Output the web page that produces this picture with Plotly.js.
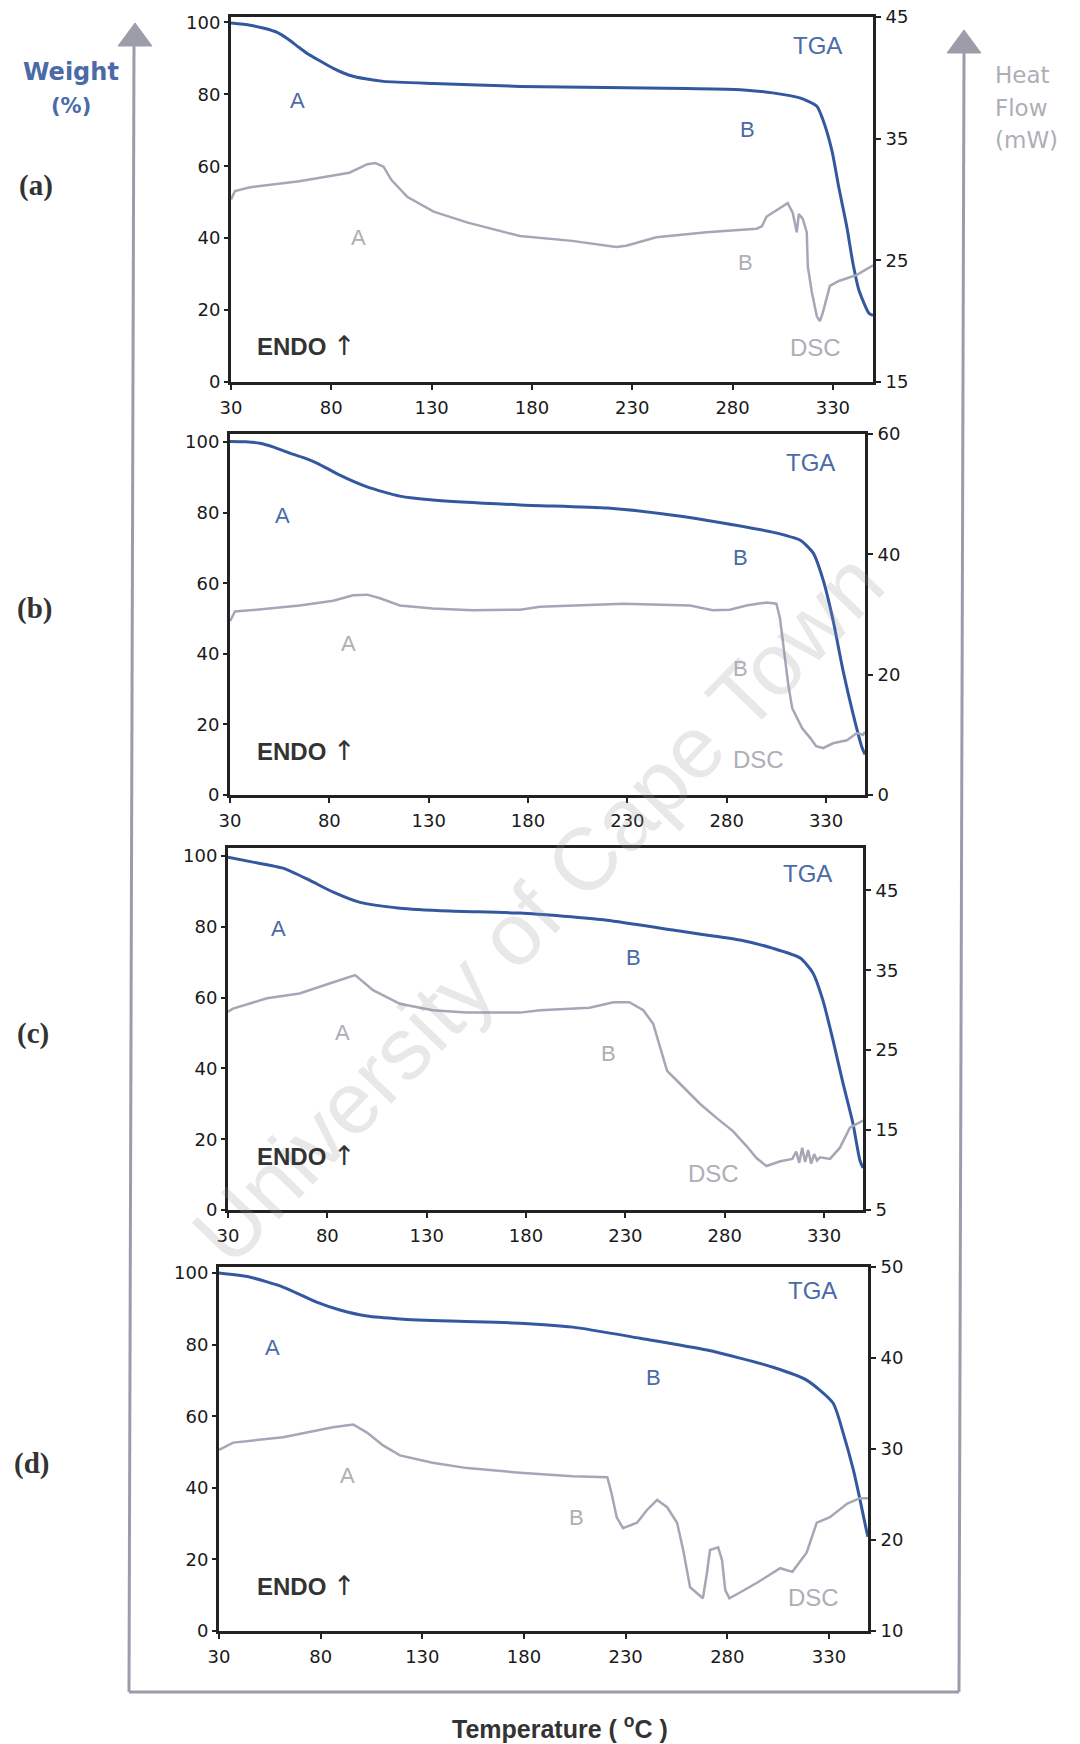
<!DOCTYPE html>
<html>
<head>
<meta charset="utf-8">
<script src="https://cdn.plot.ly/plotly-3.0.1.min.js"></script>
<style>html,body{margin:0;padding:0;background:#fff;}#chart{width:1080px;height:1744px;}</style>
</head>
<body>
<div id="chart"></div>
<script>
// ---------------- DATA ----------------
var xTickVals = [30, 80, 130, 180, 230, 280, 330];
var leftTickVals = [0, 20, 40, 60, 80, 100];

// Panel (a)
var tA_tga = [30, 39.5, 47, 53, 58, 64, 69, 74, 81, 89, 97, 106, 131, 174, 217, 257, 284, 300, 313.5, 322, 325, 329.5, 333, 337, 340, 343, 348, 350];
var wA_tga = [99.8, 99.2, 98.3, 97.2, 95.5, 93, 91, 89.4, 87.2, 85.3, 84.3, 83.6, 83, 82.2, 81.9, 81.6, 81.3, 80.4, 79, 76.7, 73, 64.4, 54, 43, 33, 25.5, 19.1, 18.5];
var tA_dsc = [30, 32, 39.5, 64, 89, 98, 102, 106, 110, 118, 131, 148, 174, 200, 222, 227, 242, 267, 292, 294.6, 297, 300, 303.5, 307.5, 310, 312, 313, 315, 317, 317.5, 319.5, 322, 323.5, 325, 328.5, 333, 342, 348, 350];
var hA_dsc = [30.0, 30.7, 31.0, 31.5, 32.2, 32.9, 33.0, 32.7, 31.6, 30.2, 29.0, 28.1, 27.0, 26.6, 26.1, 26.2, 26.9, 27.3, 27.6, 27.8, 28.6, 28.9, 29.3, 29.7, 28.9, 27.3, 28.8, 28.4, 27.3, 24.5, 22.4, 20.4, 20.0, 20.7, 22.9, 23.3, 23.8, 24.4, 24.6];
var rightTicksA = [15, 25, 35, 45];

// Panel (b)
var tB_tga = [30, 38, 45, 52, 60, 67, 74, 85, 99, 115.5, 132, 176, 220, 253, 278, 303, 317, 323.5, 328.5, 333.5, 338.5, 343.5, 348, 349.6];
var wB_tga = [100.2, 100.1, 99.7, 98.6, 96.9, 95.6, 94, 90.7, 87.3, 84.7, 83.6, 82.2, 81.3, 79.3, 77.1, 74.5, 72.2, 68.6, 61, 49.6, 35.4, 23.2, 13.6, 11.5];
var tB_dsc = [30, 32.5, 40, 65, 82, 92, 99, 105.5, 115.5, 132, 152, 176, 186, 228, 261.5, 273, 281.6, 290, 300, 305, 306.8, 309, 311, 313, 318, 322, 325, 328.5, 333.5, 340.5, 345.5, 348.6, 349.6];
var hB_dsc = [28.9, 30.5, 30.7, 31.5, 32.3, 33.2, 33.3, 32.7, 31.5, 31.0, 30.7, 30.8, 31.3, 31.8, 31.5, 30.7, 30.8, 31.5, 32.0, 31.8, 29.4, 23.9, 18.3, 14.4, 11.1, 9.5, 8.1, 7.8, 8.6, 9.1, 10.3, 10.0, 10.5];
var rightTicksB = [0, 20, 40, 60];

// Panel (c)
var tC_tga = [30, 42.6, 57.7, 71, 83, 96, 116.5, 141.7, 177, 220.7, 254, 287.7, 304, 318, 324.4, 329.4, 334.5, 339.5, 344.5, 348, 349.6];
var wC_tga = [99.7, 98.3, 96.6, 93.2, 89.8, 87, 85.3, 84.5, 83.9, 81.9, 79.1, 76.3, 74, 71.2, 67, 59.3, 48, 35.9, 24.6, 14.1, 11.9];
var tC_dsc = [30, 32.5, 49.6, 66, 83, 94, 103, 116.5, 133, 150, 177, 187, 212, 224, 232, 239, 244, 247.4, 251, 257.5, 267.5, 276, 284, 291, 296, 301, 308, 314, 316, 317.5, 319, 320.5, 322, 323.5, 325, 326.5, 328, 333, 338, 343, 347, 349.6];
var hC_dsc = [29.8, 30.2, 31.5, 32.1, 33.5, 34.4, 32.5, 30.8, 30.0, 29.7, 29.7, 30.0, 30.3, 31.0, 31.0, 30.0, 28.3, 25.3, 22.4, 20.8, 18.3, 16.5, 14.9, 13.0, 11.5, 10.5, 11.1, 11.4, 12.3, 10.9, 12.8, 11.0, 12.5, 10.8, 12.0, 11.2, 11.6, 11.4, 12.8, 15.3, 15.9, 16.2];
var rightTicksC = [5, 15, 25, 35, 45];

// Panel (d)
var tD_tga = [30, 45, 61.5, 78, 89.5, 102.8, 119, 143.6, 178, 204, 237, 270, 302.5, 319, 332, 337, 342, 345.3, 348.7, 349.2];
var wD_tga = [100, 98.9, 96.1, 91.9, 89.7, 88, 87.2, 86.6, 86, 84.9, 81.8, 78.5, 73.7, 70.1, 63.7, 55.3, 45, 36.6, 27.4, 26.3];
var tD_dsc = [30, 37, 61.5, 86, 96, 102.8, 110.7, 119, 135, 152, 178, 204, 221, 223, 225.6, 228.7, 235.6, 240.5, 245.5, 250.4, 255.3, 258.3, 261.7, 265, 268, 270, 271.5, 275.5, 277.4, 279, 281, 286, 294.6, 306, 312, 319, 324, 330.5, 339, 345.3, 349.2];
var hD_dsc = [29.9, 30.7, 31.3, 32.4, 32.7, 31.8, 30.4, 29.3, 28.5, 27.9, 27.4, 27.0, 26.9, 25.2, 22.5, 21.3, 21.9, 23.3, 24.4, 23.6, 21.9, 18.9, 14.8, 14.2, 13.6, 16.4, 18.9, 19.2, 17.8, 14.5, 13.6, 14.2, 15.3, 16.9, 16.5, 18.6, 21.9, 22.5, 24.0, 24.6, 24.6];
var rightTicksD = [10, 20, 30, 40, 50];

var panelLetters = ['(a)', '(b)', '(c)', '(d)'];

// ---------------- LAYOUT CONFIG ----------------
var W = 1080, H = 1744;
function px(x) { return x / W; }
function py(y) { return 1 - y / H; }

var panels = [
  {box: [231, 873, 17, 382], xr: [30, 350], yl: [0, 101.5], yr: [15, 45], rt: rightTicksA,
   tga: [tA_tga, wA_tga], dsc: [tA_dsc, hA_dsc],
   lab: {tga: [817, 45], bA: [297, 100], bB: [747, 130], gA: [358, 237], gB: [745, 262], dsc: [815, 347], endo: [255, 345], letter: [36, 185]}},
  {box: [230, 865, 434, 795], xr: [30, 349.6], yl: [0, 102.3], yr: [0, 60], rt: rightTicksB,
   tga: [tB_tga, wB_tga], dsc: [tB_dsc, hB_dsc],
   lab: {tga: [810, 462], bA: [282, 515], bB: [740, 557], gA: [348, 643], gB: [740, 668], dsc: [758, 760], endo: [255, 750], letter: [34, 608]}},
  {box: [228, 863, 848, 1210], xr: [30, 349.6], yl: [0, 102.3], yr: [5, 50.3], rt: rightTicksC,
   tga: [tC_tga, wC_tga], dsc: [tC_dsc, hC_dsc],
   lab: {tga: [807, 873], bA: [278, 928], bB: [633, 957], gA: [342, 1032], gB: [608, 1053], dsc: [713, 1173], endo: [255, 1155], letter: [33, 1033]}},
  {box: [219, 868, 1267, 1631], xr: [30, 349.2], yl: [0, 101.7], yr: [10, 50], rt: rightTicksD,
   tga: [tD_tga, wD_tga], dsc: [tD_dsc, hD_dsc],
   lab: {tga: [812, 1290], bA: [272, 1347], bB: [653, 1377], gA: [347, 1475], gB: [576, 1517], dsc: [813, 1597], endo: [255, 1585], letter: [31, 1463]}}
];

var TGA_COLOR = '#3458a0';
var DSC_COLOR = '#a6a6b6';
var BLUE_TXT = '#4a6aa8';
var GRAY_TXT = '#aeaeb6';
var FRAME = '#222222';
var tickFont = {family: 'DejaVu Sans', size: 18, color: '#1a1a1a'};

var layout = {
  width: W, height: H,
  margin: {l: 0, r: 0, t: 0, b: 0, pad: 0},
  paper_bgcolor: '#ffffff', plot_bgcolor: '#ffffff',
  showlegend: false,
  annotations: [], shapes: []
};
var traces = [];

function ann(x, y, text, font, opts) {
  var a = {xref: 'paper', yref: 'paper', x: px(x), y: py(y), text: text, showarrow: false,
           xanchor: 'center', yanchor: 'middle', font: font};
  if (opts) for (var k in opts) a[k] = opts[k];
  layout.annotations.push(a);
}

// Watermark first (drawn beneath other annotations)
ann(537, 908, 'University of Cape Town', {family: 'Liberation Sans, Arial', size: 88, color: 'rgba(150,150,150,0.22)'}, {textangle: -46});

panels.forEach(function (p, i) {
  var xn = i + 1, yl = 2 * i + 1, yr = 2 * i + 2;
  var xk = 'xaxis' + (xn === 1 ? '' : xn);
  var ylk = 'yaxis' + (yl === 1 ? '' : yl);
  var yrk = 'yaxis' + yr;
  var xid = 'x' + (xn === 1 ? '' : xn);
  var ylid = 'y' + (yl === 1 ? '' : yl);
  var yrid = 'y' + yr;
  var b = p.box;
  layout[xk] = {
    domain: [px(b[0]), px(b[1])], range: p.xr, anchor: ylid,
    tickvals: xTickVals, ticks: 'outside', ticklen: 5, tickwidth: 2, tickcolor: FRAME,
    showline: true, linewidth: 3, linecolor: FRAME, mirror: true,
    showgrid: false, zeroline: false, tickfont: tickFont, ticklabelstandoff: 2, fixedrange: true
  };
  layout[ylk] = {
    domain: [py(b[3]), py(b[2])], range: p.yl, anchor: xid, side: 'left',
    tickvals: leftTickVals, ticks: 'outside', ticklen: 4, tickwidth: 2, tickcolor: FRAME,
    showline: true, linewidth: 3, linecolor: FRAME,
    showgrid: false, zeroline: false, tickfont: tickFont, ticklabelstandoff: 0, fixedrange: true
  };
  layout[yrk] = {
    domain: [py(b[3]), py(b[2])], range: p.yr, anchor: xid, overlaying: ylid, side: 'right',
    tickvals: p.rt, ticks: 'outside', ticklen: 5, tickwidth: 2, tickcolor: FRAME,
    showline: true, linewidth: 3, linecolor: FRAME,
    showgrid: false, zeroline: false, tickfont: tickFont, ticklabelstandoff: 1, fixedrange: true
  };
  traces.push({x: p.dsc[0], y: p.dsc[1], xaxis: xid, yaxis: yrid, type: 'scatter', mode: 'lines',
               line: {color: DSC_COLOR, width: 2.5}, hoverinfo: 'skip'});
  traces.push({x: p.tga[0], y: p.tga[1], xaxis: xid, yaxis: ylid, type: 'scatter', mode: 'lines',
               line: {color: TGA_COLOR, width: 3, shape: 'spline', smoothing: 0.6}, hoverinfo: 'skip'});
  var L = p.lab;
  ann(L.tga[0], L.tga[1], 'TGA', {family: 'Liberation Sans, Arial', size: 24, color: BLUE_TXT});
  ann(L.bA[0], L.bA[1], 'A', {family: 'Liberation Sans, Arial', size: 22, color: BLUE_TXT});
  ann(L.bB[0], L.bB[1], 'B', {family: 'Liberation Sans, Arial', size: 22, color: BLUE_TXT});
  ann(L.gA[0], L.gA[1], 'A', {family: 'Liberation Sans, Arial', size: 22, color: GRAY_TXT});
  ann(L.gB[0], L.gB[1], 'B', {family: 'Liberation Sans, Arial', size: 22, color: GRAY_TXT});
  ann(L.dsc[0], L.dsc[1], 'DSC', {family: 'Liberation Sans, Arial', size: 24, color: GRAY_TXT});
  ann(L.endo[0], L.endo[1], '<b>ENDO</b> <span style="font-family:DejaVu Sans;font-size:27px">↑</span>',
      {family: 'Liberation Sans, Arial', size: 24, color: '#333'}, {xanchor: 'left'});
  ann(L.letter[0], L.letter[1], '<b>' + panelLetters[i] + '</b>', {family: 'Liberation Serif, Times New Roman', size: 29, color: '#333'});
});

// Side labels
ann(71, 72, '<b>Weight</b>', {family: 'DejaVu Sans', size: 24, color: BLUE_TXT});
ann(71, 106, '<b>(%)</b>', {family: 'DejaVu Sans', size: 21, color: BLUE_TXT});
ann(993, 75, 'Heat', {family: 'DejaVu Sans', size: 23, color: GRAY_TXT}, {xanchor: 'left'});
ann(993, 108, 'Flow', {family: 'DejaVu Sans', size: 23, color: GRAY_TXT}, {xanchor: 'left'});
ann(993, 140, '(mW)', {family: 'DejaVu Sans', size: 23, color: GRAY_TXT}, {xanchor: 'left'});
ann(560, 1727, '<b>Temperature ( <sup>o</sup>C )</b>', {family: 'Liberation Sans, Arial', size: 25, color: '#333'});

// Big gray arrows and bounding lines
var AR = '#9c9cab';
function seg(x0, y0, x1, y1) {
  layout.shapes.push({type: 'line', xref: 'paper', yref: 'paper', x0: px(x0), y0: py(y0), x1: px(x1), y1: py(y1),
                      line: {color: AR, width: 3}, layer: 'below'});
}
function tri(tx, ty, hw, h) {
  layout.shapes.push({type: 'path', xref: 'paper', yref: 'paper',
    path: 'M' + px(tx) + ',' + py(ty) + ' L' + px(tx - hw) + ',' + py(ty + h) + ' L' + px(tx + hw) + ',' + py(ty + h) + ' Z',
    fillcolor: AR, line: {color: AR, width: 1}, layer: 'below'});
}
seg(134, 44, 129, 1692);
seg(129, 1692, 959, 1692);
seg(959, 1692, 964, 51);
tri(135, 23, 17, 23);
tri(964, 30, 17, 23);

Plotly.newPlot('chart', traces, layout, {staticPlot: true, displayModeBar: false});
</script>
</body>
</html>
